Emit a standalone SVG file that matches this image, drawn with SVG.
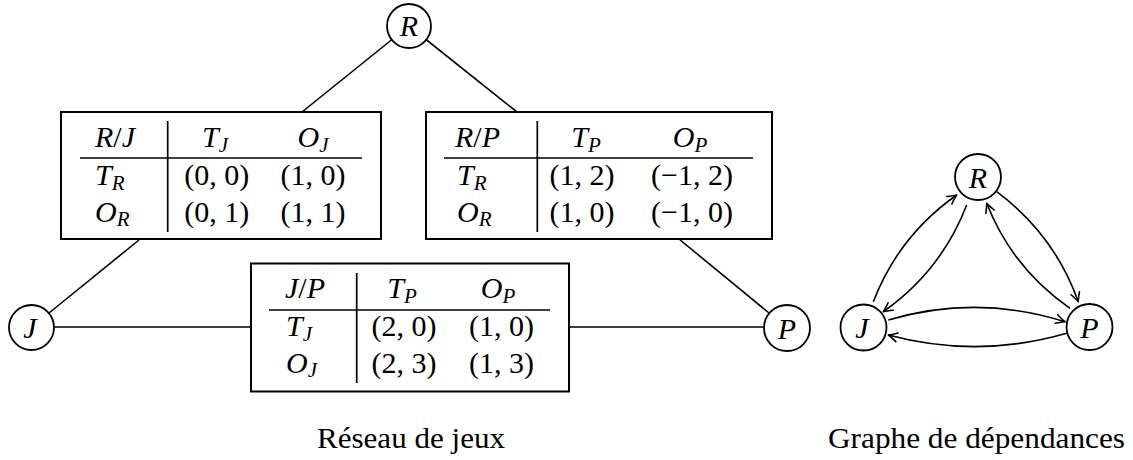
<svg xmlns="http://www.w3.org/2000/svg" width="1133" height="460" viewBox="0 0 1133 460">
<style>
  .bg{fill:#fff}
  .node{fill:#fff;stroke:#000;stroke-width:1.8}
  .box{fill:#fff;stroke:#000;stroke-width:2}
  .rule{stroke:#000;stroke-width:1.7}
  .edge{stroke:#000;stroke-width:1.6;fill:none}
  .arc{stroke:#000;stroke-width:1.6;fill:none;marker-end:url(#arr)}
  text{font-family:"Liberation Serif","Times New Roman",serif;font-size:30px;fill:#000}
  .i{font-style:italic}
  .c{text-anchor:middle}
  .sub{font-size:21px;font-style:italic}
</style>
<defs>
  <marker id="arr" markerUnits="userSpaceOnUse" markerWidth="14" markerHeight="12" viewBox="-11 -6 13 12" refX="0" refY="0" orient="auto">
    <path d="M-9,-4.5 Q-3,-1 0,0 Q-3,1 -9,4.5" fill="none" stroke="#000" stroke-width="1.6" stroke-linecap="round" stroke-linejoin="round"/>
  </marker>
</defs>
<rect class="bg" x="0" y="0" width="1133" height="460"/>

<g id="connectors">
  <line class="edge" x1="392" y1="39.5" x2="302" y2="112"/>
  <line class="edge" x1="426" y1="39.5" x2="517" y2="112"/>
  <line class="edge" x1="139" y1="240" x2="49" y2="313"/>
  <line class="edge" x1="679" y1="239" x2="769" y2="313"/>
  <line class="edge" x1="54" y1="327" x2="251" y2="327"/>
  <line class="edge" x1="569" y1="327" x2="765" y2="327"/>
  <path class="arc" d="M873.3,301.7 Q898.8,235.7 956.7,195"/>
  <path class="arc" d="M966.7,205 Q941.2,271 883.3,311.7"/>
  <path class="arc" d="M996.7,191.7 Q1054.2,234.3 1078.3,301.7"/>
  <path class="arc" d="M1070,308.3 Q1012.4,268.5 986.7,203.3"/>
  <path class="arc" d="M888.3,320 Q976.7,294 1065,321.7"/>
  <path class="arc" d="M1066.7,333.3 Q977.5,359 888.3,335"/>
</g>

<g id="node-R">
  <circle class="node" cx="409" cy="26" r="22"/>
  <text class="i c" x="409" y="36">R</text>
</g>
<g id="node-J">
  <circle class="node" cx="31.5" cy="327.5" r="22.5"/>
  <text class="i c" x="30" y="338">J</text>
</g>
<g id="node-P">
  <circle class="node" cx="787" cy="328" r="23"/>
  <text class="i c" x="787" y="338.5">P</text>
</g>

<g id="table-RJ">
  <rect class="box" x="61" y="112" width="320" height="127"/>
  <line class="rule" x1="167.7" y1="121" x2="167.7" y2="232"/>
  <line class="rule" x1="80" y1="158" x2="362" y2="158"/>
  <text x="95" y="147"><tspan class="i">R</tspan>/<tspan class="i">J</tspan></text>
  <text class="c" x="215" y="147"><tspan class="i">T</tspan><tspan class="sub" dy="4.5">J</tspan></text>
  <text class="c" x="313" y="147"><tspan class="i">O</tspan><tspan class="sub" dy="4.5">J</tspan></text>
  <text x="95" y="185"><tspan class="i">T</tspan><tspan class="sub" dy="4.5">R</tspan></text>
  <text class="c" x="216.7" y="185">(0, 0)</text>
  <text class="c" x="313" y="185">(1, 0)</text>
  <text x="95" y="221.5"><tspan class="i">O</tspan><tspan class="sub" dy="4.5">R</tspan></text>
  <text class="c" x="216.7" y="221.5">(0, 1)</text>
  <text class="c" x="313" y="221.5">(1, 1)</text>
</g>

<g id="table-RP">
  <rect class="box" x="426" y="112" width="346" height="127"/>
  <line class="rule" x1="537.3" y1="121" x2="537.3" y2="232"/>
  <line class="rule" x1="444" y1="158" x2="753" y2="158"/>
  <text x="455" y="147"><tspan class="i">R</tspan>/<tspan class="i">P</tspan></text>
  <text class="c" x="586" y="147"><tspan class="i">T</tspan><tspan class="sub" dy="4.5">P</tspan></text>
  <text class="c" x="690" y="147"><tspan class="i">O</tspan><tspan class="sub" dy="4.5">P</tspan></text>
  <text x="457" y="185"><tspan class="i">T</tspan><tspan class="sub" dy="4.5">R</tspan></text>
  <text class="c" x="582" y="185">(1, 2)</text>
  <text class="c" x="692" y="185">(−1, 2)</text>
  <text x="457" y="221.5"><tspan class="i">O</tspan><tspan class="sub" dy="4.5">R</tspan></text>
  <text class="c" x="582" y="221.5">(1, 0)</text>
  <text class="c" x="692" y="221.5">(−1, 0)</text>
</g>

<g id="table-JP">
  <rect class="box" x="251" y="263.5" width="318" height="128"/>
  <line class="rule" x1="356.7" y1="273" x2="356.7" y2="383"/>
  <line class="rule" x1="269" y1="310" x2="550" y2="310"/>
  <text x="285" y="298"><tspan class="i">J</tspan>/<tspan class="i">P</tspan></text>
  <text class="c" x="402" y="298"><tspan class="i">T</tspan><tspan class="sub" dy="4.5">P</tspan></text>
  <text class="c" x="498" y="298"><tspan class="i">O</tspan><tspan class="sub" dy="4.5">P</tspan></text>
  <text x="286" y="336"><tspan class="i">T</tspan><tspan class="sub" dy="4.5">J</tspan></text>
  <text class="c" x="404" y="336">(2, 0)</text>
  <text class="c" x="501.5" y="336">(1, 0)</text>
  <text x="286" y="372.5"><tspan class="i">O</tspan><tspan class="sub" dy="4.5">J</tspan></text>
  <text class="c" x="404" y="372.5">(2, 3)</text>
  <text class="c" x="501.5" y="372.5">(1, 3)</text>
</g>

<g id="dep-R">
  <circle class="node" cx="978" cy="177" r="23"/>
  <text class="i c" x="978" y="187.5">R</text>
</g>
<g id="dep-J">
  <circle class="node" cx="863.5" cy="327.5" r="23"/>
  <text class="i c" x="862" y="338">J</text>
</g>
<g id="dep-P">
  <circle class="node" cx="1089.5" cy="327" r="23"/>
  <text class="i c" x="1089.5" y="337.5">P</text>
</g>

<g id="captions">
  <text x="317" y="448" textLength="188" lengthAdjust="spacingAndGlyphs">Réseau de jeux</text>
  <text x="828" y="448" textLength="297" lengthAdjust="spacingAndGlyphs">Graphe de dépendances</text>
</g>
</svg>
